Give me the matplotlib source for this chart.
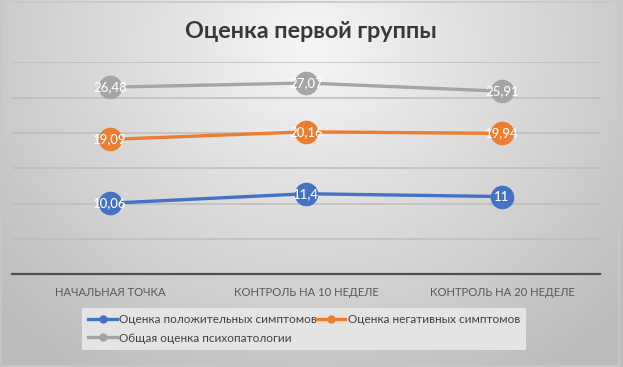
import numpy as np
import matplotlib
matplotlib.use("Agg")
import matplotlib.pyplot as plt
from matplotlib.lines import Line2D

# data
categories = ["НАЧАЛЬНАЯ ТОЧКА", "КОНТРОЛЬ НА 10 НЕДЕЛЕ", "КОНТРОЛЬ НА 20 НЕДЕЛЕ"]
positive = [10.06, 11.4, 11]
negative = [19.09, 20.16, 19.94]
total = [26.48, 27.07, 25.91]

series_names = ["Оценка положительных симптомов",
                "Оценка негативных симптомов",
                "Общая оценка психопатологии"]
colors = ["#4472C4", "#ED7D31", "#A5A5A5"]

plt.rcParams['font.family'] = ['Lato', 'DejaVu Sans']

fig = plt.figure(figsize=(6.23, 3.67), dpi=100)

# gradient background like the excel chart area
bg = fig.add_axes([0, 0, 1, 1], zorder=-10)
yy, xx = np.mgrid[0:1:367j, 0:1:623j]
r = np.sqrt(((xx - 0.5) / 0.6) ** 2 + ((yy - 0.12) / 0.95) ** 2)
shade = np.clip(0.965 - 0.2 * r, 0.74, 0.97)
bg.imshow(np.dstack([shade] * 3), aspect='auto', extent=[0, 1, 0, 1], origin='upper')
bg.add_patch(plt.Rectangle((0.002, 0.004), 0.992, 0.99, fill=False,
                           edgecolor='#c8c8c8', lw=1.2, transform=bg.transAxes))
bg.set_axis_off()

ax = fig.add_axes([12 / 623, 1 - 274.3 / 367, 588 / 623, 212 / 367])
ax.patch.set_alpha(0)

x = np.arange(len(categories))
for vals, c in zip([positive, negative, total], colors):
    ax.plot(x, vals, color=c, lw=2.4, marker='o', markersize=17,
            markeredgewidth=0, solid_capstyle='round', zorder=3)
    for xi, v in zip(x, vals):
        lbl = f"{v:g}".replace('.', ',')
        ax.text(xi, v, lbl, ha='center', va='center', color='white',
                fontsize=9.5, fontweight='medium', zorder=4)

ax.set_xlim(-0.5, 2.5)
ax.set_ylim(0, 30)
ax.set_yticks(np.arange(0, 31, 5))
ax.yaxis.grid(True, color='#bdbdbd', lw=1.1)
ax.set_axisbelow(True)
ax.tick_params(axis='y', left=False, labelleft=False)
ax.set_xticks(x)
ax.set_xticklabels(categories, fontsize=8.1, color='#595959')
ax.tick_params(axis='x', length=0, pad=9)
for s in ['top', 'right', 'left']:
    ax.spines[s].set_visible(False)
ax.spines['bottom'].set_color('#505050')
ax.spines['bottom'].set_linewidth(1.6)

fig.text(311 / 623, 1 - 31 / 367, "Оценка первой группы", ha='center', va='center',
         fontsize=16.8, fontweight='bold', color='#383838')

# legend: column-wise fill, so order blue, grey, orange
handles = [Line2D([], [], color=c, lw=2.4, marker='o', markersize=5) for c in colors]
order = [0, 2, 1]
leg = fig.legend([handles[i] for i in order], [series_names[i] for i in order],
                 ncol=2, loc='upper left', bbox_to_anchor=(82 / 623, 1 - 308 / 367),
                 fontsize=8.5, frameon=True, fancybox=False, handlelength=2.4,
                 handletextpad=0.2, columnspacing=0.0, borderpad=0.55,
                 labelspacing=0.6, borderaxespad=0)
leg.get_frame().set_facecolor('#e4e4e4')
leg.get_frame().set_edgecolor('none')
leg.get_frame().set_alpha(1)
for t in leg.get_texts():
    t.set_color('#404040')

fig.savefig("out.png", dpi=100)
